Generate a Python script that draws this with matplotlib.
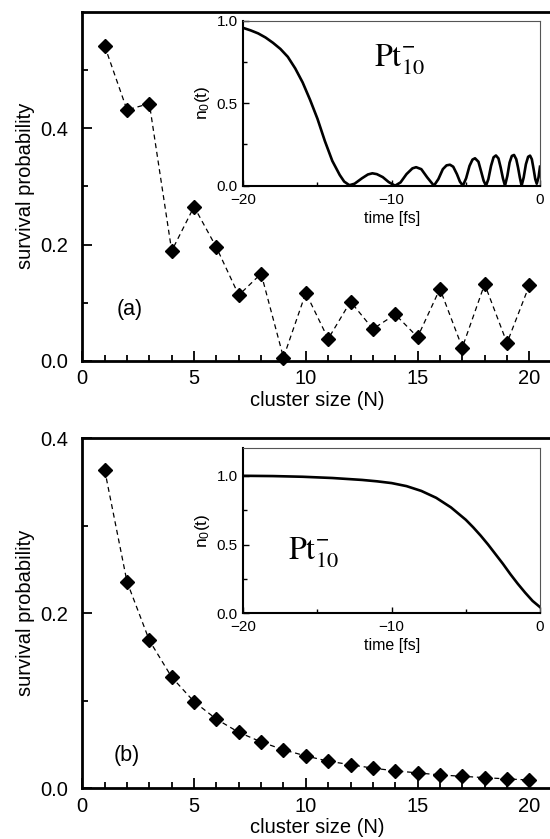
import matplotlib
matplotlib.use("Agg")
import matplotlib.pyplot as plt
from matplotlib.ticker import MultipleLocator, FixedLocator, FormatStrFormatter

plt.rcParams['font.family'] = ['Liberation Sans', 'DejaVu Sans']
plt.rcParams['mathtext.fontset'] = 'stix'
plt.rcParams['mathtext.default'] = 'regular'

# ---------------- data ----------------
cluster_size = list(range(1, 21))
survival_a = [0.541, 0.431, 0.442, 0.189, 0.265, 0.195, 0.113, 0.150, 0.006, 0.117,
              0.038, 0.102, 0.055, 0.080, 0.041, 0.124, 0.023, 0.132, 0.031, 0.130]
survival_b = [0.364, 0.236, 0.169, 0.127, 0.099, 0.079, 0.064, 0.053, 0.044, 0.037,
              0.031, 0.027, 0.023, 0.020, 0.0176, 0.0153, 0.0137, 0.0122, 0.0107, 0.0095]

time_a = [-20, -19.5, -19, -18.5, -18, -17.5, -17, -16.5, -16, -15.5, -15, -14.5, -14,
          -13.5, -13.2, -12.85, -12.5, -12.0, -11.6, -11.3, -11.0, -10.6, -10.2, -9.77,
          -9.4, -9.0, -8.6, -8.35, -8.0, -7.6, -7.15, -6.85, -6.55, -6.3, -6.07, -5.85,
          -5.6, -5.4, -5.2, -4.98, -4.75, -4.55, -4.38, -4.15, -3.95, -3.8, -3.64, -3.48,
          -3.3, -3.13, -2.97, -2.8, -2.65, -2.5, -2.36, -2.2, -2.05, -1.9, -1.75, -1.6,
          -1.48, -1.36, -1.24, -1.1, -0.95, -0.8, -0.67, -0.55, -0.43, -0.32, -0.22,
          -0.1, 0.0]
n0_a = [0.955, 0.94, 0.922, 0.897, 0.865, 0.828, 0.78, 0.71, 0.625, 0.52, 0.405, 0.27,
        0.15, 0.065, 0.025, 0.003, 0.012, 0.045, 0.068, 0.075, 0.07, 0.052, 0.022, 0.0,
        0.02, 0.07, 0.105, 0.112, 0.10, 0.05, 0.0, 0.04, 0.10, 0.123, 0.127, 0.115,
        0.07, 0.025, 0.0, 0.045, 0.12, 0.158, 0.166, 0.145, 0.08, 0.03, 0.0, 0.04,
        0.12, 0.172, 0.183, 0.165, 0.11, 0.045, 0.0, 0.06, 0.14, 0.18, 0.186, 0.16,
        0.11, 0.05, 0.0, 0.05, 0.13, 0.175, 0.182, 0.16, 0.10, 0.04, 0.012,
        0.05, 0.115]

time_b = [-20, -18, -16, -14, -12, -11, -10, -9, -8, -7, -6, -5, -4.5, -4, -3.5, -3,
          -2.5, -2, -1.5, -1, -0.5, 0]
n0_b = [1.0, 0.998, 0.993, 0.984, 0.97, 0.96, 0.947, 0.925, 0.89, 0.84, 0.77, 0.68,
        0.625, 0.565, 0.5, 0.43, 0.36, 0.285, 0.215, 0.15, 0.09, 0.045]

ticks_a_major = [0.0, 0.2, 0.4]
ticks_a_minor = [0.1, 0.3, 0.5]
ticks_b_major = [0.0, 0.2, 0.4]
ticks_b_minor = [0.1, 0.3]

# ---------------- figure ----------------
W, H = 550, 839
fig = plt.figure(figsize=(W / 100, H / 100), dpi=100)

def px_axes(left, top, right, bottom):
    return [left / W, 1 - bottom / H, (right - left) / W, (bottom - top) / H]

def style_main(ax, ylim, ymaj, ymin):
    ax.set_xlim(0, 21)
    ax.set_ylim(*ylim)
    ax.xaxis.set_major_locator(MultipleLocator(5))
    ax.xaxis.set_minor_locator(MultipleLocator(1))
    ax.yaxis.set_major_locator(FixedLocator(ymaj))
    ax.yaxis.set_minor_locator(FixedLocator(ymin))
    ax.yaxis.set_major_formatter(FormatStrFormatter('%.1f'))
    ax.tick_params(which='both', direction='in', top=False, right=False,
                   labelsize=14.5, width=1.3)
    ax.tick_params(which='major', length=7)
    ax.tick_params(which='minor', length=4.5)
    ax.tick_params(axis='y', pad=10)
    ax.tick_params(axis='x', pad=6)
    for s in ['left', 'bottom', 'top']:
        ax.spines[s].set_linewidth(2.0)
    ax.spines['right'].set_visible(False)
    ax.set_xlabel('cluster size (N)', fontsize=14.5, labelpad=2)
    ax.set_ylabel('survival probability', fontsize=14.5, labelpad=4)

def style_inset(ax, ylim, xlab):
    ax.set_xlim(-20, 0)
    ax.set_ylim(*ylim)
    ax.xaxis.set_major_locator(MultipleLocator(10))
    ax.xaxis.set_minor_locator(MultipleLocator(5))
    ax.yaxis.set_major_locator(MultipleLocator(0.5))
    ax.yaxis.set_minor_locator(MultipleLocator(0.25))
    ax.yaxis.set_major_formatter(FormatStrFormatter('%.1f'))
    ax.tick_params(which='both', direction='in', top=False, right=False,
                   labelsize=11, width=1.0)
    ax.tick_params(axis='x', pad=5)
    ax.tick_params(axis='y', pad=4)
    ax.tick_params(which='major', length=4)
    ax.tick_params(which='minor', length=3)
    ax.spines['left'].set_linewidth(1.5)
    ax.spines['bottom'].set_linewidth(1.5)
    for s in ['top', 'right']:
        ax.spines[s].set_linewidth(0.8)
        ax.spines[s].set_color('#555555')
    ax.set_xlabel(xlab, fontsize=11.5, labelpad=3)
    ax.set_ylabel('n$_0$(t)', fontsize=12.5, labelpad=3)

# ---- panel (a) ----
ax1 = fig.add_axes(px_axes(82.3, 11.5, 551.7, 361))
ax1.plot(cluster_size, survival_a, color='black', lw=0.9, ls=(0, (4, 3)),
         marker='D', ms=7.5, mfc='black', mec='black', clip_on=False)
style_main(ax1, (0, 0.6), ticks_a_major, ticks_a_minor)
ax1.text(1.55, 0.088, '(a)', fontsize=15.5, va='center', ha='left')

ins1 = fig.add_axes(px_axes(243.3, 20.5, 540, 185.7))
ins1.plot(time_a, n0_a, color='black', lw=1.9)
style_inset(ins1, (0, 1.0), 'time [fs]')
ins1.text(-9.5, 0.76, r'$\mathrm{Pt}_{\mathrm{10}}^{-}$', fontsize=23, ha='center',
          va='center')

# ---- panel (b) ----
ax2 = fig.add_axes(px_axes(82.3, 438.3, 551.7, 788.3))
ax2.plot(cluster_size, survival_b, color='black', lw=0.9, ls=(0, (4, 3)),
         marker='D', ms=7.5, mfc='black', mec='black', clip_on=False)
style_main(ax2, (0, 0.4), ticks_b_major, ticks_b_minor)
ax2.text(1.4, 0.038, '(b)', fontsize=15.5, va='center', ha='left')

ins2 = fig.add_axes(px_axes(243.3, 448.3, 540, 613.3))
ins2.plot(time_b, n0_b, color='black', lw=1.9)
style_inset(ins2, (0, 1.2), 'time [fs]')
ins2.text(-15.3, 0.44, r'$\mathrm{Pt}_{\mathrm{10}}^{-}$', fontsize=23, ha='center',
          va='center')

fig.savefig('out.png', dpi=100)
